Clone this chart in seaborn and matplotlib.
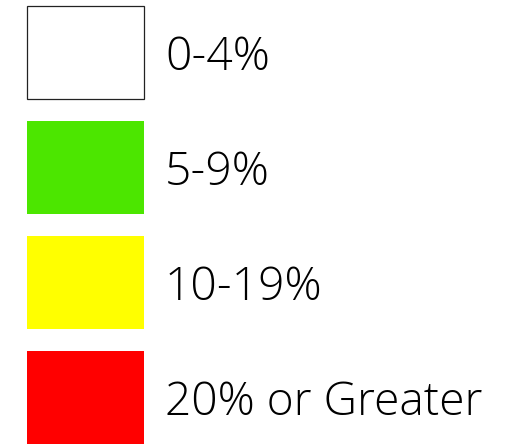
import matplotlib
matplotlib.use("Agg")
import matplotlib.pyplot as plt
import seaborn as sns
import pandas as pd

labels = ["0-4%", "5-9%", "10-19%", "20% or Greater"]
colors = ["#FFFFFF", "#4CE600", "#FFFF00", "#FF0000"]
lengths = [1, 1, 1, 1]

sns.set_theme(style="white")
plt.rcParams['font.family'] = ['Open Sans', 'DejaVu Sans']

df = pd.DataFrame({"label": labels, "length": lengths})

fig = plt.figure(figsize=(5.13, 4.44), dpi=100)
ax = fig.add_axes([0, 0, 1, 1])
sns.barplot(data=df, y="label", x="length", hue="label", palette=colors,
            orient="h", width=0.81, legend=False, ax=ax, linewidth=0,
            saturation=1)

for patch, c in zip(ax.patches, colors):
    if c.upper() == "#FFFFFF":
        patch.set_edgecolor("#222222")
        patch.set_linewidth(0.9)

for i, lab in enumerate(labels):
    ax.text(1.179, i + 0.155, lab, fontsize=33.2, va="baseline", ha="left",
            color="black", fontweight="light")

ax.set_xlim(-27 / 117, (513 - 27) / 117)
ax.set_ylim((444 - 52.5) / 115, -52.5 / 115)
ax.axis("off")
fig.savefig("out.png", dpi=100)
